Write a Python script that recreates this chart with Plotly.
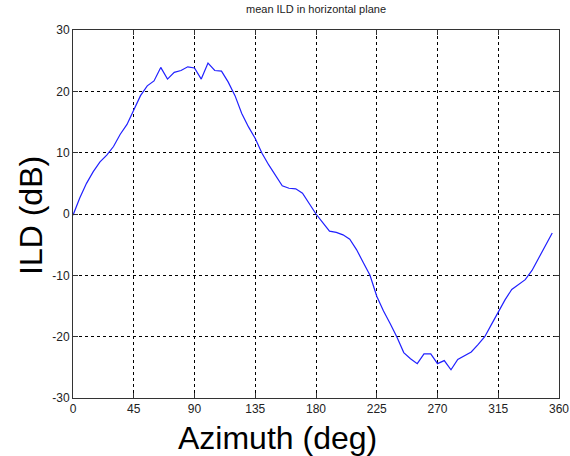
import plotly.graph_objects as go

azimuth = list(range(0, 360, 5))
ild = [-0.2, 2.6, 5.0, 6.9, 8.5, 9.6, 11.0, 13.0, 14.6, 17.0,
       19.3, 20.9, 21.7, 23.9, 22.0, 23.1, 23.4, 24.0, 23.8, 22.0,
       24.6, 23.4, 23.3, 21.5, 19.3, 16.4, 14.2, 12.3, 9.9, 8.0,
       6.3, 4.6, 4.2, 4.1, 3.4, 1.7, 0.0, -1.4, -2.8, -3.0,
       -3.4, -4.1, -5.8, -7.9, -10.0, -13.4, -15.8, -17.9, -20.1, -22.6,
       -23.6, -24.4, -22.8, -22.8, -24.4, -23.9, -25.4, -23.7, -23.1, -22.5,
       -21.3, -20.0, -18.0, -15.9, -14.0, -12.3, -11.5, -10.7, -9.2, -7.2,
       -5.3, -3.1]
x_ticks = [0, 45, 90, 135, 180, 225, 270, 315, 360]
y_ticks = [-30, -20, -10, 0, 10, 20, 30]
y_tick_labels = ["-30", "-20", "-10", "0", "10", "20", "30"]

FONT = "Liberation Sans, Arial"

fig = go.Figure()
fig.add_trace(go.Scatter(x=azimuth, y=ild, mode="lines",
                         line=dict(color="#2020ff", width=1.2),
                         showlegend=False, hoverinfo="skip"))

axis_common = dict(
    showline=True, linecolor="#333", linewidth=1, mirror="ticks",
    ticks="inside", ticklen=5, tickcolor="#333",
    showgrid=True, gridcolor="#000", gridwidth=1, griddash="3px,3px",
    zeroline=False, automargin=False,
    tickfont=dict(family=FONT, size=12, color="#222"),
)

fig.update_xaxes(range=[0, 360], tickvals=x_ticks, **axis_common)
fig.update_yaxes(range=[-30, 30], tickvals=y_ticks, ticktext=y_tick_labels, **axis_common)

fig.add_annotation(text="Azimuth (deg)", xref="paper", yref="paper", x=0.4218, y=-0.1087,
                   xanchor="center", yanchor="middle", showarrow=False,
                   font=dict(family=FONT, size=32, color="#000"))
fig.add_annotation(text="ILD (dB)", xref="paper", yref="paper", x=-0.0864, y=0.4946,
                   xanchor="center", yanchor="middle", showarrow=False, textangle=-90,
                   font=dict(family=FONT, size=32, color="#000"))

fig.update_layout(
    width=570, height=456,
    margin=dict(l=73, r=11, t=30, b=58),
    paper_bgcolor="white", plot_bgcolor="white",
    title=dict(text="mean ILD in horizontal plane", x=0.5, xref="paper", xanchor="center",
               y=0.98, yref="container", yanchor="middle",
               font=dict(family=FONT, size=11, color="#222")),
)

fig.write_html("out.html", config={"displayModeBar": False},
               post_script="document.body.style.margin='0';document.body.style.overflow='hidden';")
